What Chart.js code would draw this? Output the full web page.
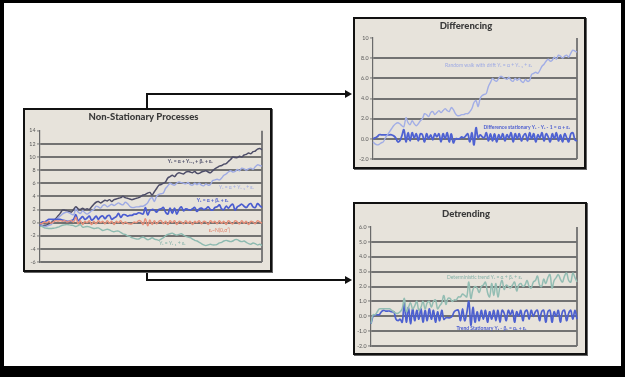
<!DOCTYPE html>
<html><head><meta charset="utf-8">
<script src="https://cdn.jsdelivr.net/npm/chart.js@4"></script>
<style>
html,body{margin:0;padding:0;background:#000;width:625px;height:377px;overflow:hidden;position:relative}
#page{position:absolute;left:4px;top:3px;width:617px;height:363px;background:#fff}
.box{position:absolute;border:2px solid #111;background:#e7e3db;box-shadow:1px 1px 0 #666}
.box canvas{display:block}
.ln{position:absolute;background:#111}
.arrow{position:absolute;width:0;height:0;border-top:4px solid transparent;border-bottom:4px solid transparent;border-left:7px solid #111}
</style></head>
<body>
<div id="page"></div>
<div class="ln" style="left:146px;top:93px;width:2px;height:15px"></div>
<div class="ln" style="left:146px;top:93px;width:200px;height:2px"></div>
<div class="arrow" style="left:345px;top:90px"></div>
<div class="ln" style="left:146px;top:272px;width:2px;height:9px"></div>
<div class="ln" style="left:146px;top:279px;width:200px;height:2px"></div>
<div class="arrow" style="left:345px;top:276px"></div>

<div class="box" style="left:23px;top:108px;width:245px;height:160px"><canvas id="cLeft" width="245" height="160"></canvas></div>
<div class="box" style="left:353px;top:17px;width:229px;height:148px"><canvas id="cDiff" width="229" height="148"></canvas></div>
<div class="box" style="left:353px;top:202px;width:230px;height:149px"><canvas id="cDetr" width="230" height="149"></canvas></div>

<script>
// ---------- DATA ----------
const periods = Array.from({length:100},(_,k)=>k+1);

// Y_t = a + Y_{t-1} + b_t + e_t  (random walk with drift and trend)
const walkDriftTrend = [-0.5,-0.45,-0.4,-0.35,-0.2,0.0,0.3,0.6,1.0,1.4,1.9,1.9,1.8,1.7,1.6,2.0,2.4,2.1,2.0,2.2,
 2.0,2.1,2.0,2.4,2.8,3.1,3.2,3.0,3.2,3.4,3.3,3.5,3.2,3.5,3.6,3.7,3.8,4.0,3.8,3.7,
 3.6,3.5,3.6,3.7,3.8,4.0,4.2,4.3,4.5,4.6,4.2,4.7,5.2,5.7,5.8,6.0,6.2,6.8,7.0,7.2,
 7.0,7.4,7.6,7.5,7.4,7.7,7.8,7.7,7.6,7.8,7.5,7.5,7.7,7.8,7.9,7.7,7.6,7.9,8.2,8.4,
 8.6,8.7,8.9,9.0,9.3,9.6,10.0,9.9,9.9,10.1,10.0,10.3,10.4,10.6,10.5,10.8,10.9,11.2,11.3,11.1];

// Y_t = a + Y_{t-1} + e_t  (random walk with drift)
const walkDrift = [-0.3,-0.5,-0.6,-0.55,-0.4,-0.3,0.1,0.4,0.7,1.0,1.3,1.5,1.6,1.5,1.3,1.2,2.1,1.6,1.4,1.8,
 1.5,1.3,1.5,1.8,2.0,2.5,2.4,2.2,2.6,2.7,2.4,2.6,2.8,2.6,2.8,3.0,2.8,2.7,3.1,2.9,
 2.5,2.3,2.3,2.4,2.4,2.5,2.5,2.7,3.0,3.6,3.8,3.2,4.0,4.3,4.4,4.5,5.2,5.6,6.0,5.8,
 5.7,6.0,6.2,6.1,6.0,5.9,6.1,5.8,5.7,6.0,5.8,6.0,5.7,5.6,5.9,5.7,5.8,6.4,6.5,6.6,
 6.5,6.8,7.2,7.4,7.7,7.9,7.7,7.8,8.1,7.9,8.3,8.2,8.0,8.2,8.3,8.1,8.5,8.8,8.7,8.6];

// Y_t = a + b_t + e_t  (deterministic trend)
const detTrend = [-0.5,0.1,0.1,0.3,0.5,0.5,0.5,0.5,0.5,0.5,0.4,0.3,0.2,0.2,0.3,0.5,1.2,0.3,0.6,0.9,
 0.5,0.7,1.0,0.4,0.6,1.0,0.5,0.9,1.0,0.6,1.0,1.1,0.5,0.7,0.9,1.4,0.8,1.2,1.2,1.0,
 1.1,1.1,1.3,1.3,1.5,1.4,1.3,2.3,1.2,1.8,2.0,1.9,1.6,2.0,2.1,2.3,1.6,1.3,2.2,1.4,
 2.2,1.3,2.0,2.4,1.8,2.1,2.0,1.9,2.1,2.3,1.7,2.1,2.2,2.0,2.1,2.4,2.0,1.9,2.3,2.4,
 2.7,2.1,2.0,2.5,2.2,2.6,2.8,1.9,2.4,2.6,2.8,2.5,2.3,2.7,2.9,2.4,2.3,2.9,2.6,2.3];

// e_t ~ N(0, s^2)
const whiteNoise = [-0.2,-0.1,0.1,0.0,0.2,-0.1,0.1,0.3,0.2,0.3,0.2,0.3,0.1,0.2,0.3,0.1,0.8,-0.2,0.3,-0.3,
 0.2,0.0,0.3,-0.3,0.2,-0.2,0.3,0.0,0.2,-0.2,0.3,-0.1,0.2,-0.3,0.2,0.0,0.3,-0.2,0.1,-0.1,
 -0.2,-0.2,0.1,0.0,0.3,0.2,-0.3,0.6,-0.5,0.4,-0.3,0.3,-0.2,0.2,0.3,-0.2,0.2,-0.3,0.3,0.0,
 0.3,-0.3,0.2,0.1,-0.2,0.3,-0.1,0.2,-0.3,0.2,0.0,0.3,-0.2,0.2,0.1,-0.3,0.3,0.0,0.2,-0.2,
 0.3,-0.1,0.2,-0.3,0.3,0.0,-0.2,0.3,0.1,-0.2,0.3,-0.1,0.2,-0.3,0.2,0.1,-0.2,0.3,0.1,-0.1];

// Y_t = Y_{t-1} + e_t  (pure random walk)
const randomWalk = [-0.5,-0.6,-0.8,-0.85,-0.9,-0.9,-0.85,-0.8,-0.7,-0.55,-0.4,-0.35,-0.3,-0.35,-0.4,-0.45,-0.6,-0.45,-0.3,-0.7,
 -0.65,-0.6,-0.65,-0.8,-0.9,-0.85,-0.8,-1.0,-1.2,-1.1,-1.0,-1.1,-1.3,-1.4,-1.3,-1.3,-1.5,-1.7,-1.8,-2.0,
 -2.1,-2.3,-2.4,-2.5,-2.5,-2.3,-2.2,-2.4,-2.6,-2.5,-2.3,-2.5,-2.6,-2.7,-2.5,-2.3,-2.0,-1.8,-1.7,-1.6,
 -1.8,-1.9,-1.8,-1.7,-1.9,-2.1,-2.2,-2.3,-2.5,-2.7,-2.8,-3.0,-3.2,-3.4,-3.5,-3.4,-3.3,-3.4,-3.4,-3.3,
 -3.1,-3.0,-2.8,-2.7,-2.8,-2.9,-2.8,-2.6,-2.6,-2.8,-2.9,-2.8,-3.0,-3.2,-3.3,-3.1,-3.2,-3.4,-3.3,-3.5];

// Y_t - Y_{t-1} = a + e_t  (difference stationary)
const diffStationary = [0.0,0.1,0.2,0.4,0.4,0.4,0.4,0.4,0.4,0.4,0.3,0.1,-0.3,-0.2,0.3,0.9,-0.3,0.6,-0.2,0.6,
 0.1,0.5,-0.2,0.5,0.4,-0.3,0.5,0.0,0.4,-0.1,0.5,0.2,0.5,-0.3,0.5,0.0,0.6,-0.3,0.5,-0.4,
 0.0,0.0,0.0,0.2,0.1,0.3,0.5,-0.3,0.6,-0.6,1.1,0.1,0.4,0.2,0.1,0.6,-0.2,0.5,-0.2,0.5,
 -0.3,0.4,0.0,0.5,-0.2,0.4,0.1,0.6,-0.3,0.5,0.0,0.5,-0.2,0.3,0.5,-0.2,0.6,0.0,0.5,-0.3,
 0.4,0.1,0.6,-0.2,0.5,0.2,-0.3,0.5,0.0,0.6,-0.2,0.4,-0.3,0.5,0.1,-0.3,0.5,0.6,-0.1,-0.2];

// Y_t - b_t = a_t + e_t  (trend stationary)
const trendStationary = [-0.5,0.0,0.1,0.1,0.1,0.3,0.4,0.35,0.35,0.35,0.3,0.3,-0.2,-0.3,-0.2,-0.4,0.9,-0.4,0.6,-0.5,
 0.5,-0.3,0.4,-0.2,0.5,-0.4,0.4,-0.3,0.5,-0.2,0.4,-0.4,0.3,-0.3,0.4,-0.2,-0.1,-0.1,-0.1,0.0,
 0.3,0.4,0.4,-0.3,0.5,-0.3,0.2,1.0,-0.6,0.6,-0.4,0.3,-0.3,0.4,-0.2,0.4,-0.4,0.3,-0.2,0.4,
 -0.3,0.4,-0.4,0.4,0.2,-0.3,0.4,0.1,0.4,-0.4,0.3,0.0,0.4,-0.3,0.3,0.4,-0.2,0.4,0.0,0.3,
 0.4,-0.3,0.3,0.4,-0.4,0.3,0.4,-0.4,0.3,0.0,0.4,-0.4,0.3,0.4,-0.3,0.2,0.4,-0.2,0.4,-0.2];

// tick labels
const leftTicks = ['-6','-4','-2','0','2','4','6','8','10','12','14'];
const diffTicks = ['-2.0','0.0','2.0','4.0','6.0','8.0','10'];
const detrTicks = ['-2.0','-1.0','0.0','1.0','2.0','3.0','4.0','5.0','6.0'];

// ---------- PLUGINS ----------
const frame = {
  id:'frame',
  beforeDatasetsDraw(chart){
    const {ctx, chartArea:a} = chart;
    ctx.save(); ctx.strokeStyle='#707070'; ctx.lineWidth=1.8;
    ctx.beginPath(); ctx.moveTo(a.right,a.top); ctx.lineTo(a.right,a.bottom); ctx.stroke();
    ctx.restore();
  }
};
const lineLabels = {
  id:'lineLabels',
  afterDatasetsDraw(chart, args, opts){
    const {ctx, scales:{x,y}} = chart;
    ctx.save(); ctx.textAlign='center'; ctx.textBaseline='middle';
    (opts.items||[]).forEach(it=>{
      ctx.font = it.font; ctx.fillStyle = it.color;
      ctx.fillText(it.text, x.getPixelForValue(it.i), y.getPixelForValue(it.v));
    });
    ctx.restore();
  }
};

const FONT = 'Lato, "Open Sans", sans-serif';
function ds(label, data, color, width, tension){
  return {label, data, borderColor:color, borderWidth:width, pointRadius:0, tension:tension, fill:false};
}
function makeChart(id, o){
  const tickLabels = o.ticks;
  new Chart(document.getElementById(id), {
    type:'line',
    data:{labels:periods, datasets:o.datasets},
    options:{
      responsive:false, animation:false, events:[],
      layout:{padding:{left:0,right:o.padR,bottom:o.padB,top:0}},
      plugins:{
        legend:{display:false}, tooltip:{enabled:false},
        title:{display:true, text:o.title, color:'#3a3a3a',
          font:{family:FONT, size:9.5, weight:'900', lineHeight:1.2},
          padding:{top:o.tTop,bottom:o.tBot}},
        lineLabels:{items:o.labels}
      },
      scales:{
        x:{type:'category', display:false, offset:false},
        y:{min:o.min, max:o.max,
          afterFit(s){ s.width = o.yW; },
          afterBuildTicks(s){ s.ticks = tickLabels.map((t,k)=>({value:o.min+k*o.step})); },
          ticks:{color:'#555', font:{family:FONT,size:5.3}, padding:1.5,
            callback:(v,k)=>tickLabels[k]},
          grid:{color:c=> (c.tick && c.tick.value===o.max) ? 'rgba(0,0,0,0)' : '#727272',
            lineWidth:1.9, tickLength:3, tickColor:'#777', tickWidth:1},
          border:{display:true, color:'#6a6a6a', width:1.2}
        }
      }
    },
    plugins:[frame, lineLabels]
  });
}

const LF = '5px ' + FONT;
const LFB = 'bold 5px ' + FONT;

makeChart('cLeft', {
  title:'Non-Stationary Processes', tTop:1.3, tBot:8.0,
  min:-6, max:14, step:2, ticks:leftTicks, yW:15, padR:8, padB:8,
  datasets:[
    ds('Yt = Yt-1 + et', randomWalk, '#8dbab0', 1.4, 0.3),
    ds('et ~ N(0,s2)', whiteNoise, '#e8907a', 1.4, 0.4),
    ds('Yt = a + bt + et', detTrend, '#4a5cd0', 1.7, 0.4),
    ds('Yt = a + Yt-1 + et', walkDrift, '#9eaae4', 1.4, 0.3),
    ds('Yt = a + Yt-1 + bt + et', walkDriftTrend, '#4d4d68', 1.5, 0.3)
  ],
  labels:[
    {text:'Yₜ = α + Yₜ₋₁ + βₜ + εₜ', i:67, v:9.4, color:'#4d4d68', font:LFB},
    {text:'Yₜ = α + Yₜ₋₁ + εₜ', i:87.6, v:5.3, color:'#9eaae4', font:LF},
    {text:'Yₜ = α + βₜ + εₜ', i:77, v:3.4, color:'#4a5cd0', font:LFB},
    {text:'εₜ~N(0,σ²)', i:80, v:-1.2, color:'#e07a62', font:LF},
    {text:'Yₜ = Yₜ₋₁ + εₜ', i:59, v:-3.2, color:'#80b0a6', font:LF}
  ]
});

makeChart('cDiff', {
  title:'Differencing', tTop:1.3, tBot:6.3,
  min:-2, max:10, step:2, ticks:diffTicks, yW:18, padR:7, padB:8,
  datasets:[
    ds('Random walk with drift', walkDrift, '#a2aee6', 1.4, 0.3),
    ds('Difference stationary', diffStationary, '#4f62d2', 1.8, 0.4)
  ],
  labels:[
    {text:'Random walk with drift Yₜ = α + Yₜ₋₁ + εₜ', i:56, v:7.3, color:'#9eaae4', font:LF},
    {text:'Difference stationary Yₜ - Yₜ - 1 = α + εₜ', i:74.6, v:1.16, color:'#4a5cd0', font:LFB}
  ]
});

makeChart('cDetr', {
  title:'Detrending', tTop:4.3, tBot:7.3,
  min:-2, max:6, step:1, ticks:detrTicks, yW:16, padR:8, padB:7,
  datasets:[
    ds('Deterministic trend', detTrend, '#93bdb3', 1.5, 0.4),
    ds('Trend Stationary', trendStationary, '#4d60d0', 1.7, 0.4)
  ],
  labels:[
    {text:'Deterministic trend Yₜ = α + βₜ + εₜ', i:54.5, v:2.6, color:'#86b2a8', font:LF},
    {text:'Trend Stationary Yₜ - βₜ = αₜ + εₜ', i:57.9, v:-0.8, color:'#4a5cd0', font:LFB}
  ]
});
</script>
</body></html>
